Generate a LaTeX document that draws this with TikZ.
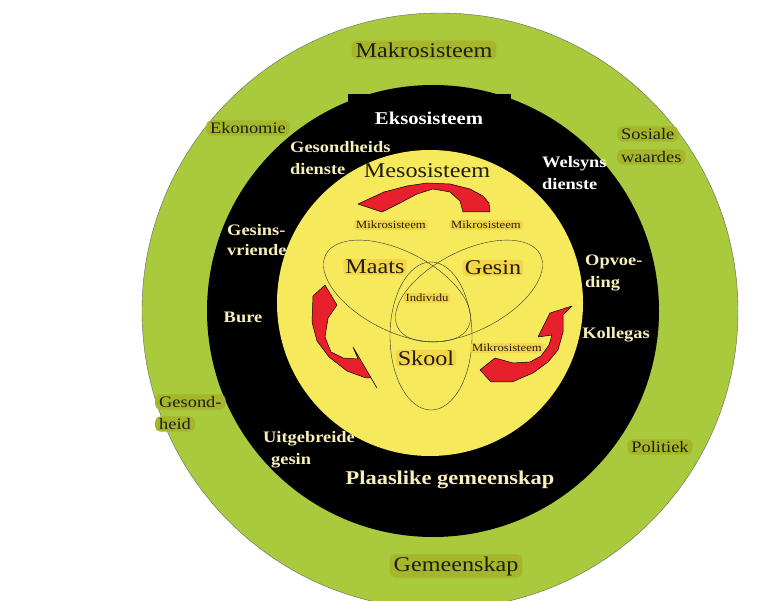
\documentclass[tikz,border=0pt]{standalone}
\usepackage{fontspec}
\setmainfont[FakeStretch=1.15]{Liberation Serif}
\usetikzlibrary{shapes.geometric}
\definecolor{ringgreen}{RGB}{168,202,60}
\definecolor{olivebox}{RGB}{166,182,42}
\definecolor{sunyellow}{RGB}{246,233,92}
\definecolor{goldbox}{RGB}{245,214,72}
\definecolor{arrowred}{RGB}{232,32,44}
\definecolor{cream}{RGB}{250,238,186}
\definecolor{darktext}{RGB}{30,30,10}

\begin{document}
\begin{tikzpicture}[x=1pt,y=-1pt,
		big/.style={font=\fontsize{21}{23}\selectfont},
		mid/.style={font=\fontsize{16}{22}\selectfont},
		small/.style={font=\fontsize{11}{13}\selectfont},
		makro/.style={fill=olivebox,text=darktext,rounded corners=5pt,inner xsep=4pt,inner ysep=2pt},
		ekso/.style={text=cream,inner sep=0pt,align=left},
		mikro/.style={fill=goldbox,text=darktext,rounded corners=3pt,inner xsep=2pt,inner ysep=1pt},
		lus/.style={draw=black!80,thin,ellipse},
		pyl/.style={fill=arrowred,draw=black,line width=.5pt,line join=round}]
		    	\fill[white] (0,0) rectangle (779,601);
		    	\useasboundingbox (0,0) rectangle (779,601);
		    	\clip (0,0) rectangle (779,601);
		    	
		    	% ringe
		    	\draw[fill=ringgreen,draw=black!60] (440,311) circle (298);
		    	\fill (433,311) circle (226);
		    	\fill[sunyellow] (430,303) circle (153);
		    	
		    	% lusse
		    	\node[lus,minimum width=160,minimum height=80,rotate=-27] (LA) at (397,291) {};
		    	\node[lus,minimum width=160,minimum height=80,rotate=27] (LB) at (469,291) {};
		    	\node[lus,minimum width=82,minimum height=148] (LC) at (431,336) {};
		    	
		    	% pyle
		    	\draw[pyl] (490,212) -- (489,203) -- (483,196) -- (470,189) -- (450,184) -- (427,183) -- (407,186) -- (384,192) -- (358,204) -- (382,212) -- (400,203) -- (417,194) -- (433,189) -- (450,192) -- (460,201) -- (463,212) -- cycle;
		    	\draw[pyl] (325,285) -- (337,305) -- (328,318) -- (325,337) -- (331,352) -- (343,358) -- (358,359) -- (353,347) -- (377,388) -- (371,378) -- (366,378) -- (347,371) -- (329,357) -- (317,341) -- (312,322) -- (313,296) -- cycle;
		    	\draw[pyl] (480,370) -- (495,358) -- (513,363) -- (530,362) -- (541,356) -- (549,345) -- (552,335) -- (538,337) -- (550,313) -- (572,306) -- (563,315) -- (563,332) -- (558,350) -- (548,362) -- (533,373) -- (512,382) -- (491,382) -- cycle;
		    	
		    	% makrosisteem
		    	\node[makro,big] (MK) at (424,50) {Makrosisteem};
		    	\node[makro,mid] (EN) at (248,128) {Ekonomie};
		    	\node[makro,mid,anchor=west] (SO) at (617,134) {Sosiale};
		    	\node[makro,mid,anchor=west] (WA) at (617,157) {waardes};
		    	\node[makro,mid,anchor=west] (GO) at (155,402) {Gesond-};
		    	\node[makro,mid,anchor=west] (HE) at (155,424) {heid};
		    	\node[makro,mid] (PO) at (660,447) {Politiek};
		    	\node[makro,big] (GM) at (456,566) {Gemeenskap};
		    	
		    	% eksosisteem
		    	\node[fill=black,text=white,font=\fontsize{18}{20}\selectfont\bfseries,minimum width=163,minimum height=48] (EK) at (429,118) {Eksosisteem};
		    	\node[ekso,mid,font=\fontsize{16}{22}\selectfont\bfseries,anchor=west] (GD) at (290,158) {Gesondheids\\dienste};
		    	\node[ekso,font=\fontsize{16}{22}\selectfont\bfseries,anchor=west,text=white] (WD) at (542,173) {Welsyns\\dienste};
		    	\node[ekso,font=\fontsize{16}{20}\selectfont\bfseries,anchor=west] (GV) at (227,240) {Gesins-\\vriende};
		    	\node[ekso,font=\fontsize{16}{22}\selectfont\bfseries] (BU) at (243,317) {Bure};
		    	\node[ekso,font=\fontsize{16}{22}\selectfont\bfseries,anchor=west] (OD) at (585,273) {Opvoe-\\ding};
		    	\node[ekso,font=\fontsize{16}{22}\selectfont\bfseries] (KO) at (616,335) {Kollegas};
		    	\node[ekso,font=\fontsize{16}{22}\selectfont\bfseries,anchor=west] (UG) at (263,450) {Uitgebreide\\\hspace*{8pt}gesin};
		    	\node[ekso,font=\fontsize{19.5}{22}\selectfont\bfseries] (PG) at (450,480) {Plaaslike gemeenskap};
		    	
		    	% mesosisteem
		    	\node[text=darktext,big] (MS) at (427,171) {Mesosisteem};
		    	\node[mikro,small] (MA) at (391,225) {Mikrosisteem};
		    	\node[mikro,small] (MB) at (486,225) {Mikrosisteem};
		    	\node[mikro,small] (MC) at (507,348) {Mikrosisteem};
		    	\node[mikro,big] (MT) at (375,267) {Maats};
		    	\node[mikro,big] (GS) at (493,268) {Gesin};
		    	\node[mikro,small] (ID) at (427,298) {Individu};
		    	\node[mikro,big] (SK) at (426,358) {Skool};
\end{tikzpicture}
\end{document}
